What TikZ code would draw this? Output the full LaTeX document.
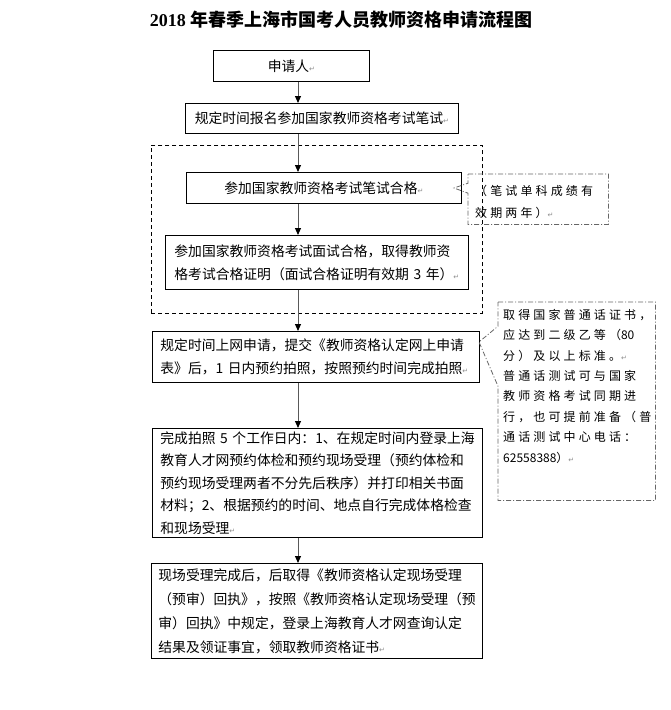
\documentclass[tikz,border=0pt]{standalone}
\usepackage{fontspec}
\setmainfont{Noto Sans CJK SC}
\newfontfamily\notefont[LetterSpace=26]{Noto Sans CJK SC}
\newfontfamily\titlelatin{Liberation Serif}
\newfontfamily\markfont{DejaVu Sans}
\usetikzlibrary{arrows.meta}

\newcommand\pmk{{\markfont\fontsize{7}{7}\selectfont\textcolor{black!45}{↵}}}

\begin{document}
\begin{tikzpicture}[x=1pt,y=-1pt,
  every node/.style={font=\fontsize{13.8}{23}\selectfont},
  box/.style={draw, line width=0.8pt, anchor=north west, inner xsep=9pt, inner ysep=0pt},
  group/.style={draw, line width=0.8pt, dash pattern=on 4pt off 3pt, anchor=north west, inner sep=0pt},
  frame/.style={anchor=north west, inner sep=0pt},
  note/.style={draw=black!60, line width=0.8pt, dash pattern=on 5pt off 2pt on 1pt off 2pt},
  notetext/.style={anchor=north west, inner sep=0pt, align=left,
    font=\notefont\fontsize{12}{20.4}\selectfont},
  flow/.style={draw=black!65, line width=1pt, -{Triangle[length=7pt,width=6pt,color=black]}}]
  \path[fill=white] (0,0) rectangle (671,710);
  \useasboundingbox (0,0) rectangle (671,710);

  \node[font=\fontsize{18}{18}\selectfont\bfseries] (title) at (341,20)
    {{\titlelatin\bfseries 2018} 年春季上海市国考人员教师资格申请流程图};

  % main chain
  \node[box, minimum width=156pt, minimum height=31pt] (apply) at (213,50) {申请人\pmk};
  \node[box, minimum width=273pt, minimum height=30pt] (enrol) at (185,103)
    {规定时间报名参加国家教师资格考试笔试\pmk};
  \node[group, minimum width=331pt, minimum height=168pt] (exams) at (151,145) {};
  \node[box, minimum width=275pt, minimum height=31pt] (written) at (186,172)
    {参加国家教师资格考试笔试合格\pmk};
  \node[box, minimum width=303pt, minimum height=54pt, text width=285pt, align=left] (interview) at (165,235)
    {参加国家教师资格考试面试合格，取得教师资\\
     格考试合格证明（面试合格证明有效期~3~年）\pmk};
  \node[box, minimum width=327pt, minimum height=51pt, text width=311pt, inner xsep=8pt, align=left] (online) at (152,331)
    {规定时间上网申请，提交《教师资格认定网上申请\\
     表》后，1~日内预约拍照，按照预约时间完成拍照\pmk};
  \node[box, minimum width=330pt, minimum height=109pt, text width=314pt, inner xsep=8pt, align=left,
    font=\fontsize{13.8}{22.5}\selectfont] (booking) at (152,428)
    {完成拍照~5~个工作日内：1、在规定时间内登录上海\\
     教育人才网预约体检和预约现场受理（预约体检和\\
     预约现场受理两者不分先后秩序）并打印相关书面\\
     材料；2、根据预约的时间、地点自行完成体格检查\\
     和现场受理\pmk};
  \node[box, minimum width=331pt, minimum height=95pt, text width=317pt, inner xsep=7pt, align=left,
    font=\fontsize{13.8}{24}\selectfont] (receipt) at (151,563)
    {现场受理完成后，后取得《教师资格认定现场受理\\
     （预审）回执》，按照《教师资格认定现场受理（预\\
     审）回执》中规定，登录上海教育人才网查询认定\\
     结果及领证事宜，领取教师资格证书\pmk};

  \coordinate (spine) at (298,0);
  \draw[flow] (apply.south -| spine) -- (enrol.north -| spine);
  \draw[flow] (enrol.south -| spine) -- (written.north -| spine);
  \draw[flow] (written.south -| spine) -- (interview.north -| spine);
  \draw[flow] (interview.south -| spine) -- (online.north -| spine);
  \draw[flow] (online.south -| spine) -- (booking.north -| spine);
  \draw[flow] (booking.south -| spine) -- (receipt.north -| spine);

  % callouts
  \node[frame, minimum width=140pt, minimum height=50pt] (calloutA) at (468,174) {};
  \coordinate (tipA) at (454,188);
  \draw[note] (calloutA.north west) -- (calloutA.north east) -- (calloutA.south east)
    -- (calloutA.south west) -- ([yshift=6pt]calloutA.west) -- (tipA)
    -- ([yshift=16pt]calloutA.west) -- cycle;
  \node[notetext, font=\notefont\fontsize{12}{22}\selectfont] (validity) at (475,185)
    {（笔试单科成绩有\\效期两年）\pmk};

  \node[frame, minimum width=157pt, minimum height=198pt] (calloutB) at (498,302) {};
  \coordinate (tipB) at (479,342);
  \draw[note] (calloutB.north west) -- (calloutB.north east) -- (calloutB.south east)
    -- (calloutB.south west) -- ([yshift=15pt]calloutB.west) -- (tipB)
    -- ([yshift=75pt]calloutB.west) -- cycle;
  \node[notetext] (mandarin) at (503,309)
    {取得国家普通话证书，\\
     应达到二级乙等（{\rmfamily 80}\\
     分）及以上标准。\pmk\\
     普通话测试可与国家\\
     教师资格考试同期进\\
     行，也可提前准备（普\\
     通话测试中心电话：\\
     {\rmfamily 62558388}）\pmk};
\end{tikzpicture}
\end{document}
